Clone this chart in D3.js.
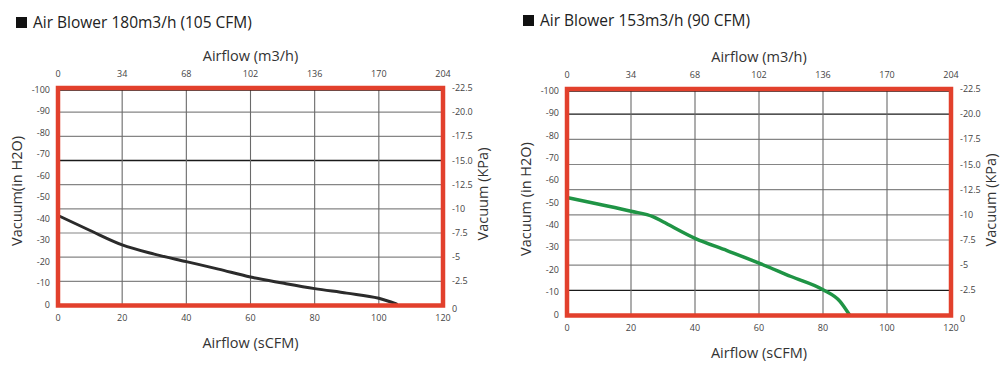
<!DOCTYPE html>
<html>
<head>
<meta charset="utf-8">
<script src="https://cdn.jsdelivr.net/npm/d3@7"></script>
<style>
  body { margin: 0; background: #fff; }
  svg { display: block; font-family: "Open Sans", "Noto Sans", sans-serif; }
</style>
</head>
<body>
<svg width="1000" height="367"></svg>
<script>
// 데이터
const cfmTicks = [0, 20, 40, 60, 80, 100, 120];
const m3hTicks = [0, 34, 68, 102, 136, 170, 204];
const inH2OTicks = [0, 10, 20, 30, 40, 50, 60, 70, 80, 90, 100];
const kpaTicks = [0, 2.5, 5, 7.5, 10, 12.5, 15, 17.5, 20, 22.5];
const kpaLabels = ["0", "2.5", "5", "7.5", "10", "12.5", "15.0", "17.5", "20.0", "22.5"];

// 곡선 1: 180m3/h (105 CFM) - x: sCFM, y: in H2O
const blower180cfm = [0, 10, 20, 30, 40, 50, 60, 70, 80, 90, 100, 105.5];
const blower180vac = [41.5, 34.5, 27.8, 23.5, 20, 16.5, 12.8, 10, 7.4, 5.3, 2.9, 0.3];

// 곡선 2: 153m3/h (90 CFM)
const blower153cfm = [0, 10, 20, 27, 30, 40, 50, 60, 70, 80, 85.3, 88.2];
const blower153vac = [52.3, 49.3, 46.2, 43.7, 41.5, 34.1, 28.6, 23, 17, 11.1, 5.9, 0];

const svg = d3.select("svg");

function drawChart(o) {
	const g = svg.append("g");

	const x = d3.scaleLinear().domain([0, 120]).range([o.left, o.right]);
	const xTop = d3.scaleLinear().domain([0, 204]).range([o.left, o.right]);
	const yK = d3.scaleLinear().domain([0, 22.5]).range([o.bottom, o.top]);
	const yL = d3.scaleLinear().domain([0, 100]).range([o.bottom - 1, o.top + 2]);

	// 제목
	g.append("rect")
		.attr("x", o.titleX)
		.attr("y", o.titleY - 7)
		.attr("width", 11)
		.attr("height", 11)
		.attr("fill", "#111");
	g.append("text")
		.attr("x", o.titleX + 17)
		.attr("y", o.titleY)
		.attr("dominant-baseline", "middle")
		.attr("font-size", 15.5)
		.attr("fill", "#222")
		.text(o.title);

	// 가로 격자 (KPa 기준)
	g.selectAll(".hgrid")
		.data(kpaTicks.slice(1, -1))
		.enter().append("line")
		.attr("x1", o.left)
		.attr("x2", o.right)
		.attr("y1", d => yK(d))
		.attr("y2", d => yK(d))
		.attr("stroke", d => o.darkLines.includes(d) ? "#1a1a1a" : "#858585")
		.attr("stroke-width", d => o.darkLines.includes(d) ? 1.4 : 1.1);

	// 세로 격자
	g.selectAll(".vgrid")
		.data(cfmTicks.slice(1, -1))
		.enter().append("line")
		.attr("x1", d => x(d))
		.attr("x2", d => x(d))
		.attr("y1", o.top)
		.attr("y2", o.bottom)
		.attr("stroke", "#6a6a6a")
		.attr("stroke-width", 1.1);

	// 곡선
	const pts = o.xs.map((v, i) => [v, o.ys[i]]);
	g.append("path")
		.datum(pts)
		.attr("d", d3.line().x(d => x(d[0])).y(d => yL(d[1])).curve(d3.curveMonotoneX))
		.attr("fill", "none")
		.attr("stroke", o.color)
		.attr("stroke-width", o.lineWidth)
		.attr("stroke-linecap", "round");

	// 테두리
	g.append("line")
		.attr("x1", o.left)
		.attr("x2", o.right)
		.attr("y1", o.top + 2)
		.attr("y2", o.top + 2)
		.attr("stroke", "#111")
		.attr("stroke-width", 1.5);
	g.append("rect")
		.attr("x", o.left)
		.attr("y", o.top)
		.attr("width", o.right - o.left)
		.attr("height", o.bottom - o.top)
		.attr("fill", "none")
		.attr("stroke", "#e2402c")
		.attr("stroke-width", 4.5);

	// 눈금 글자
	const tickStyle = sel => sel.attr("font-size", 9).attr("fill", "#444");

	g.selectAll(".tb")
		.data(cfmTicks)
		.enter().append("text")
		.attr("x", d => x(d))
		.attr("y", o.bottom + 15)
		.attr("text-anchor", "middle")
		.call(tickStyle)
		.text(d => d);

	g.selectAll(".tt")
		.data(m3hTicks)
		.enter().append("text")
		.attr("x", d => xTop(d))
		.attr("y", o.top - 11)
		.attr("text-anchor", "middle")
		.call(tickStyle)
		.text(d => d);

	g.selectAll(".tl")
		.data(inH2OTicks)
		.enter().append("text")
		.attr("x", o.left - 8)
		.attr("y", d => yL(d) + 3)
		.attr("text-anchor", "end")
		.call(tickStyle)
		.text(d => d === 0 ? "0" : "-" + d);

	g.selectAll(".tr")
		.data(kpaTicks)
		.enter().append("text")
		.attr("x", o.right + 9)
		.attr("y", (d, i) => yK(d) + (d === 0 ? 6 : 3))
		.attr("text-anchor", "start")
		.call(tickStyle)
		.text((d, i) => d === 0 ? "0" : "-" + kpaLabels[i]);

	// 축 제목
	const titleStyle = sel => sel.attr("font-size", 14.5).attr("fill", "#333").attr("text-anchor", "middle");

	g.append("text")
		.attr("x", (o.left + o.right) / 2)
		.attr("y", o.top - 27)
		.call(titleStyle)
		.text("Airflow (m3/h)");

	g.append("text")
		.attr("x", (o.left + o.right) / 2)
		.attr("y", o.bottom + 42)
		.call(titleStyle)
		.text("Airflow (sCFM)");

	g.append("text")
		.attr("transform", `translate(${o.left - 36},${o.leftTitleY}) rotate(-90)`)
		.call(titleStyle)
		.text(o.leftTitle);

	g.append("text")
		.attr("transform", `translate(${o.right + 45},${o.rightTitleY}) rotate(-90)`)
		.call(titleStyle)
		.text("Vacuum (KPa)");
}

drawChart({
	title: "Air Blower 180m3/h (105 CFM)",
	titleX: 16, titleY: 24,
	left: 58, right: 443, top: 88, bottom: 305.5,
	xs: blower180cfm, ys: blower180vac,
	color: "#2b2b2b", lineWidth: 3,
	darkLines: [15],
	leftTitle: "Vacuum(in H2O)", leftTitleY: 191, rightTitleY: 194
});

drawChart({
	title: "Air Blower 153m3/h (90 CFM)",
	titleX: 523, titleY: 22,
	left: 567, right: 951, top: 89, bottom: 315.5,
	xs: blower153cfm, ys: blower153vac,
	color: "#1f9445", lineWidth: 3.5,
	darkLines: [20, 2.5],
	leftTitle: "Vacuum (in H2O)", leftTitleY: 199, rightTitleY: 200
});
</script>
</body>
</html>
